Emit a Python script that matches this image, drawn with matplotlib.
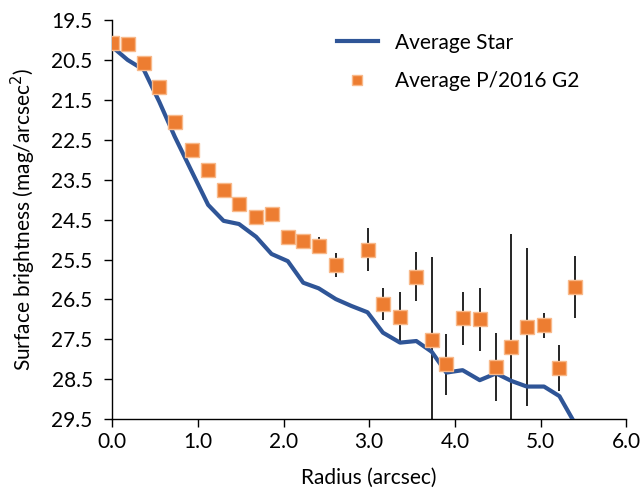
import numpy as np
from matplotlib import pyplot as plt

plt.rcParams['font.family'] = ['Lato', 'DejaVu Sans']

# Average Star profile
star_r = [0.00, 0.18, 0.37, 0.55, 0.73, 0.93, 1.12, 1.30, 1.48, 1.68, 1.86, 2.05, 2.23,
          2.41, 2.61, 2.79, 2.98, 3.16, 3.36, 3.55, 3.73, 3.90, 4.09, 4.29, 4.48, 4.66,
          4.84, 5.04, 5.22, 5.40]
star_mag = [20.17, 20.50, 20.75, 21.55, 22.42, 23.30, 24.13, 24.53, 24.61, 24.93, 25.36,
            25.54, 26.08, 26.22, 26.49, 26.66, 26.82, 27.33, 27.58, 27.54, 27.81, 28.33,
            28.27, 28.52, 28.35, 28.54, 28.68, 28.68, 28.92, 29.60]

# Average P/2016 G2 profile with errors
obj_r = [0.00, 0.18, 0.37, 0.55, 0.73, 0.93, 1.12, 1.30, 1.48, 1.68, 1.86, 2.05, 2.23,
         2.41, 2.61, 2.98, 3.16, 3.36, 3.55, 3.73, 3.90, 4.09, 4.29, 4.48, 4.66, 4.84,
         5.04, 5.22, 5.40]
obj_mag = [20.07, 20.10, 20.57, 21.19, 22.05, 22.76, 23.26, 23.76, 24.11, 24.43, 24.36,
           24.93, 25.03, 25.15, 25.64, 25.25, 26.61, 26.93, 25.93, 27.51, 28.12, 26.97,
           27.00, 28.19, 27.68, 27.19, 27.15, 28.22, 26.19]
obj_err = [0.0, 0.0, 0.0, 0.0, 0.0, 0.0, 0.0, 0.0, 0.0, 0.0, 0.0, 0.10, 0.08, 0.22,
           0.30, 0.53, 0.41, 0.61, 0.62, 2.07, 0.76, 0.67, 0.80, 0.85, 2.81, 1.97,
           0.32, 0.57, 0.78]

fig = plt.figure(figsize=(6.41, 4.93), dpi=100)
ax = fig.add_axes([0.175, 0.1495, 0.802, 0.81])

ax.errorbar(obj_r, obj_mag, yerr=obj_err, fmt='none', ecolor='black', elinewidth=1.2,
            capsize=0, zorder=2)
ax.plot(star_r, star_mag, color='#2F5597', lw=3, label='Average Star', zorder=3,
        solid_joinstyle='round')
ax.plot(obj_r, obj_mag, 's', ms=9.5, mfc='#ED7D31', mec='#F8B98A', mew=1,
        label='Average P/2016 G2', zorder=4)

ax.set_xlim(0, 6)
ax.set_ylim(29.5, 19.5)
ax.set_xticks(np.arange(0, 6.01, 1.0))
ax.set_yticks(np.arange(19.5, 29.51, 1.0))
ax.xaxis.set_major_formatter(plt.FormatStrFormatter('%.1f'))
ax.yaxis.set_major_formatter(plt.FormatStrFormatter('%.1f'))
ax.tick_params(labelsize=15, direction='out', length=6, width=1)
ax.tick_params(axis='y', pad=8)
for s in ['top', 'right']:
    ax.spines[s].set_visible(False)
for s in ['left', 'bottom']:
    ax.spines[s].set_linewidth(1)

ax.set_xlabel('Radius (arcsec)', fontsize=15, labelpad=11)
ax.set_ylabel('Surface brightness (mag/arcsec$^2$)', fontsize=15, labelpad=10)

ax.legend(loc='upper right', bbox_to_anchor=(0.945, 1.015), frameon=False, fontsize=15,
          handlelength=2.0, labelspacing=0.9, markerscale=0.8)

plt.savefig('out.png', dpi=100)
